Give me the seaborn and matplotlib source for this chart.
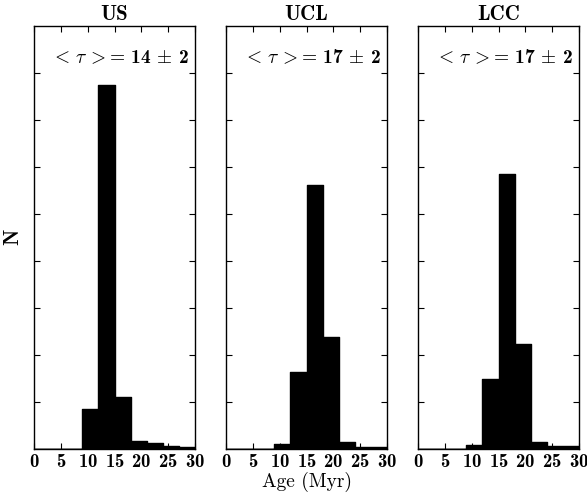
import numpy as np
import matplotlib
matplotlib.use("Agg")
import matplotlib.pyplot as plt
import seaborn as sns

sns.set_style("ticks")
plt.rcParams["mathtext.fontset"] = "cm"
plt.rcParams["font.family"] = ["cmb10", "DejaVu Serif"]
plt.rcParams["axes.formatter.use_mathtext"] = True
for key in ["text.color", "axes.labelcolor", "xtick.color", "ytick.color", "axes.edgecolor"]:
    plt.rcParams[key] = "black"

# histogram bins (Myr) and bin heights (arbitrary N units)
bin_edges = [0, 3, 6, 9, 12, 15, 18, 21, 24, 27, 30]
regions = ["US", "UCL", "LCC"]
mean_age = ["14", "17", "17"]
err_age = ["2", "2", "2"]
counts_us = [0, 0, 0, 0.84, 7.73, 1.10, 0.16, 0.11, 0.05, 0.03]
counts_ucl = [0, 0, 0, 0.10, 1.62, 5.60, 2.37, 0.15, 0.04, 0.03]
counts_lcc = [0, 0, 0, 0.08, 1.49, 5.85, 2.22, 0.15, 0.06, 0.05]
all_counts = [counts_us, counts_ucl, counts_lcc]

centers = 0.5 * (np.array(bin_edges[:-1]) + np.array(bin_edges[1:]))

fig = plt.figure(figsize=(5.87, 4.94), dpi=100)
lefts = [34 / 587, 226 / 587, 418 / 587]
axes = [fig.add_axes([l, 0.092, 161 / 587, 0.856]) for l in lefts]

for ax, name, mu, err, cnt in zip(axes, regions, mean_age, err_age, all_counts):
    sns.histplot(x=centers, weights=cnt, bins=bin_edges, element="step",
                 fill=True, color="black", alpha=1, linewidth=1, ax=ax)
    ax.set_xlim(0, 30)
    ax.set_ylim(0, 9)
    ax.set_xticks([0, 5, 10, 15, 20, 25, 30])
    ax.set_yticks(np.arange(1, 9))
    ax.set_yticklabels([])
    ax.tick_params(direction="in", top=True, right=True, length=4, width=0.8,
                   labelsize=13.5, pad=3)
    for s in ax.spines.values():
        s.set_linewidth(1.0)
    ax.set_title(name, fontsize=15, pad=4)
    ax.set_ylabel("")
    ax.set_xlabel("")
    ax.text(0.96, 0.945, r"$<\,\tau\,>\!=\,$" + mu + r"$\,\pm\,$" + err,
            transform=ax.transAxes, ha="right", va="top", fontsize=14)

axes[0].set_ylabel("N", fontsize=15)
axes[0].yaxis.set_label_coords(-0.075, 0.5)
axes[1].set_xlabel("Age (Myr)", fontsize=14, family=["cmr10", "DejaVu Serif"],
                   labelpad=1)

plt.savefig("out.png", dpi=100)
plt.close()
